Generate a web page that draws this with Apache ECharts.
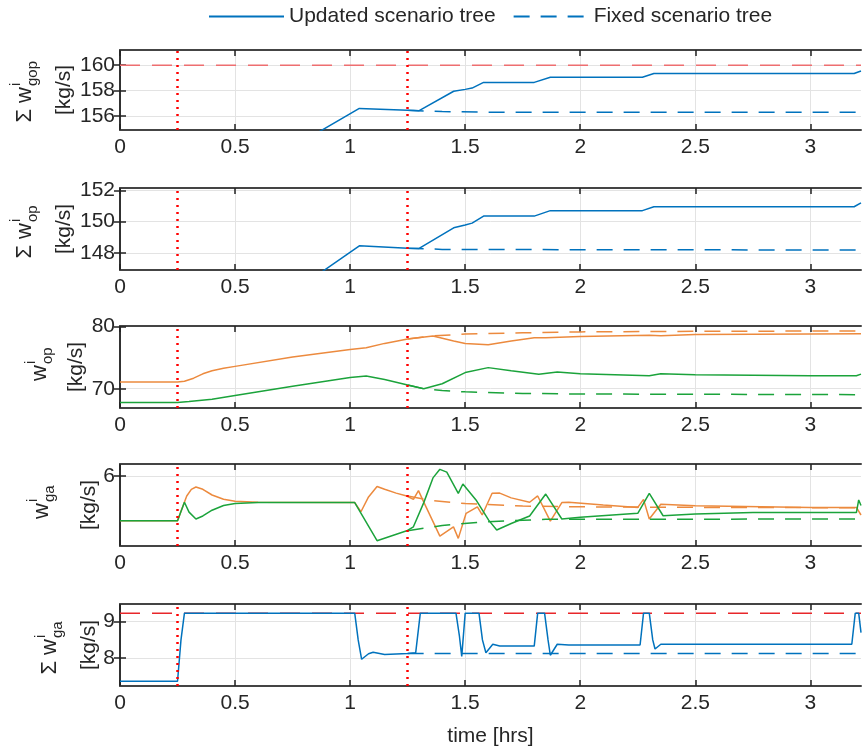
<!DOCTYPE html>
<html>
<head>
<meta charset="utf-8">
<script src="https://cdn.jsdelivr.net/npm/echarts@6/dist/echarts.min.js"></script>
<style>
html, body { margin: 0; padding: 0; background: #fff; }
#chart { width: 862px; height: 751px; }
</style>
</head>
<body>
<div id="chart"></div>
<script>
// event times (red dotted verticals)
const eventTimes = [0.25, 1.25]
const xTicks = [0, 0.5, 1, 1.5, 2, 2.5, 3]

// panel 1: sum w_gop
const gopUpdated = [[0.85,154.6],[1.04,156.6],[1.25,156.45],[1.3,156.42],[1.45,157.95],[1.5,158.1],[1.53,158.2],[1.58,158.65],[1.8,158.65],[1.87,159.05],[2.27,159.05],[2.32,159.35],[3.19,159.35],[3.22,159.55]]
const gopFixed = [[1.25,156.45],[1.4,156.35],[1.6,156.3],[3.22,156.3]]
const gopLimit = [[0,160],[3.22,160]]

// panel 2: sum w_op
const opSumUpdated = [[0.85,146.5],[1.04,148.45],[1.25,148.3],[1.3,148.28],[1.45,149.6],[1.5,149.78],[1.53,149.9],[1.58,150.35],[1.8,150.35],[1.87,150.7],[2.27,150.7],[2.32,150.95],[3.19,150.95],[3.22,151.2]]
const opSumFixed = [[1.25,148.3],[1.4,148.22],[2,148.2],[3.22,148.18]]

// panel 3: w_op per well
const op1Updated = [[0,71.1],[0.25,71.1],[0.28,71.2],[0.32,71.7],[0.36,72.4],[0.4,72.9],[0.45,73.3],[0.5,73.6],[0.75,75.1],[1.0,76.3],[1.07,76.6],[1.15,77.3],[1.25,78.0],[1.36,78.5],[1.45,77.7],[1.5,77.3],[1.6,77.1],[1.7,77.7],[1.8,78.2],[1.85,78.2],[2.0,78.4],[2.3,78.6],[2.35,78.55],[2.5,78.75],[3.0,78.8],[3.22,78.85]]
const op1Fixed = [[1.25,78.0],[1.36,78.5],[1.5,78.8],[1.75,79.0],[2.0,79.15],[2.5,79.25],[3.22,79.3]]
const op2Updated = [[0,67.8],[0.25,67.8],[0.3,67.95],[0.4,68.3],[0.5,68.9],[0.75,70.4],[1.0,71.8],[1.07,72.05],[1.15,71.5],[1.25,70.6],[1.32,70.0],[1.4,70.8],[1.5,72.6],[1.6,73.4],[1.7,72.9],[1.82,72.35],[1.9,72.7],[2.0,72.4],[2.3,72.1],[2.35,72.4],[2.5,72.25],[3.0,72.1],[3.2,72.1],[3.22,72.35]]
const op2Fixed = [[1.25,70.6],[1.32,70.0],[1.4,69.7],[1.5,69.5],[1.75,69.25],[2.0,69.15],[3.22,69.05]]

// panel 4: w_ga per well
const ga1Updated = [[0,3.65],[0.25,3.65],[0.27,4.3],[0.29,4.95],[0.31,5.3],[0.33,5.42],[0.36,5.3],[0.4,5.0],[0.45,4.78],[0.5,4.67],[0.6,4.62],[1.02,4.6],[1.047,4.12],[1.08,4.9],[1.117,5.45],[1.15,5.3],[1.2,5.1],[1.246,4.95],[1.275,4.77],[1.297,5.23],[1.319,4.65],[1.39,2.84],[1.449,3.33],[1.47,2.72],[1.504,4.04],[1.553,4.38],[1.574,3.95],[1.617,5.09],[1.65,5.1],[1.7,4.85],[1.78,4.62],[1.815,4.95],[1.87,3.63],[1.92,4.6],[1.95,4.62],[2.1,4.48],[2.25,4.35],[2.275,4.77],[2.3,3.74],[2.35,4.51],[2.5,4.43],[3.0,4.35],[3.2,4.35],[3.22,3.95]]
const ga1Fixed = [[1.25,4.95],[1.35,4.72],[1.5,4.55],[1.75,4.42],[2.0,4.38],[2.5,4.35],[3.22,4.33]]
const ga2Updated = [[0,3.65],[0.25,3.65],[0.28,4.62],[0.3,4.1],[0.33,3.74],[0.36,3.9],[0.4,4.2],[0.45,4.45],[0.5,4.55],[0.6,4.6],[1.02,4.6],[1.117,2.6],[1.246,3.12],[1.275,3.33],[1.32,4.6],[1.36,5.9],[1.39,6.35],[1.42,6.2],[1.47,5.09],[1.49,5.58],[1.547,4.74],[1.602,3.68],[1.637,3.16],[1.7,3.5],[1.78,3.9],[1.85,5.05],[1.92,3.74],[2.0,3.83],[2.25,4.04],[2.3,5.09],[2.36,3.91],[2.5,4.0],[2.75,4.08],[3.2,4.08],[3.21,4.74],[3.22,4.45]]
const ga2Fixed = [[1.25,3.12],[1.32,3.25],[1.4,3.4],[1.55,3.56],[1.7,3.65],[1.85,3.72],[3.22,3.74]]

// panel 5: sum w_ga
const gaSumUpdated = [[0,7.37],[0.25,7.37],[0.265,8.5],[0.28,9.23],[1.02,9.23],[1.035,8.5],[1.05,7.97],[1.08,8.12],[1.1,8.16],[1.15,8.1],[1.25,8.13],[1.285,8.15],[1.305,9.23],[1.46,9.23],[1.475,8.6],[1.485,8.05],[1.5,9.23],[1.56,9.23],[1.575,8.5],[1.59,8.15],[1.62,8.38],[1.65,8.33],[1.8,8.33],[1.815,9.23],[1.845,9.23],[1.86,8.5],[1.87,8.08],[1.9,8.38],[1.95,8.36],[2.26,8.36],[2.275,9.23],[2.3,9.23],[2.315,8.5],[2.325,8.25],[2.35,8.38],[3.18,8.38],[3.195,9.23],[3.21,9.23],[3.22,8.7]]
const gaSumFixed = [[1.25,8.13],[3.22,8.13]]
const gaSumLimit = [[0,9.23],[3.22,9.23]]

// y axis ranges and ticks per panel
const yRanges = [[154.9, 161.2], [146.9, 152.15], [66.9, 80.1], [2.32, 6.63], [7.24, 9.48]]
const yTicks = [[156, 158, 160], [148, 150, 152], [70, 80], [6], [8, 9]]

const FONT = 'Liberation Sans, Arial, sans-serif'
const BLUE = '#0072BD'
const ORANGE = '#EC8A3E'
const GREEN = '#1BA33B'
const gridTops = [50, 188, 326, 464, 604]
const gridHeights = [80, 82, 82, 82, 82]

const grids = gridTops.map((top, i) => ({ left: 120, right: 1, top: top, height: gridHeights[i] }))

const xAxes = []
const yAxes = []
gridTops.forEach((top, i) => {
  xAxes.push({
    type: 'value', gridIndex: i, min: 0, max: 3.22,
    axisLine: { show: true, lineStyle: { color: '#444', width: 2 } },
    axisTick: { show: true, inside: true, length: 6, customValues: xTicks, lineStyle: { color: '#222', width: 1.5 } },
    axisLabel: { customValues: xTicks, fontSize: 21, fontFamily: FONT, color: '#262626', margin: 7 },
    splitLine: { show: true, lineStyle: { color: '#e3e3e3', width: 1 } },
    name: i === 4 ? 'time [hrs]' : '',
    nameLocation: 'middle', nameGap: 40,
    nameTextStyle: { fontSize: 21, fontFamily: FONT, color: '#262626' }
  })
  xAxes.push({
    type: 'value', gridIndex: i, min: 0, max: 3.22, position: 'top',
    axisLine: { show: true, lineStyle: { color: '#444', width: 2 } },
    axisTick: { show: true, inside: true, length: 6, customValues: xTicks, lineStyle: { color: '#222', width: 1.5 } },
    axisLabel: { show: false },
    splitLine: { show: false }
  })
  yAxes.push({
    type: 'value', gridIndex: i, min: yRanges[i][0], max: yRanges[i][1],
    axisLine: { show: true, lineStyle: { color: '#262626', width: 1.5 } },
    axisTick: { show: true, inside: true, length: 6, customValues: yTicks[i], lineStyle: { color: '#222', width: 1.5 } },
    axisLabel: { customValues: yTicks[i], fontSize: 21, fontFamily: FONT, color: '#262626', margin: 5 },
    splitLine: { show: true, lineStyle: { color: '#e3e3e3', width: 1 } }
  })
  yAxes.push({
    type: 'value', gridIndex: i, min: yRanges[i][0], max: yRanges[i][1], position: 'right',
    axisLine: { show: true, lineStyle: { color: '#262626', width: 1.5 } },
    axisTick: { show: true, inside: true, length: 6, customValues: yTicks[i], lineStyle: { color: '#222', width: 1.5 } },
    axisLabel: { show: false },
    splitLine: { show: false }
  })
})

function line(name, data, panel, color, dash, z) {
  return {
    type: 'line', name: name, data: data,
    xAxisIndex: panel * 2, yAxisIndex: panel * 2,
    symbol: 'none', silent: true, z: z || 3,
    lineStyle: { color: color, width: 1.5, type: dash || 'solid' },
    itemStyle: { color: color }
  }
}

const DASH = [16, 11]
const RED_DASH = [20, 12]

const series = [
  line('limit', gopLimit, 0, '#EE6E70', RED_DASH, 2),
  line('Updated scenario tree', gopUpdated, 0, BLUE),
  line('Fixed scenario tree', gopFixed, 0, BLUE, DASH),
  line('Updated scenario tree', opSumUpdated, 1, BLUE),
  line('Fixed scenario tree', opSumFixed, 1, BLUE, DASH),
  line('well 1', op1Updated, 2, ORANGE),
  line('well 1 fixed', op1Fixed, 2, ORANGE, DASH),
  line('well 2', op2Updated, 2, GREEN),
  line('well 2 fixed', op2Fixed, 2, GREEN, DASH),
  line('well 1', ga1Updated, 3, ORANGE),
  line('well 1 fixed', ga1Fixed, 3, ORANGE, DASH),
  line('well 2', ga2Updated, 3, GREEN),
  line('well 2 fixed', ga2Fixed, 3, GREEN, DASH),
  line('limit', gaSumLimit, 4, '#E8262A', RED_DASH, 2),
  line('Updated scenario tree', gaSumUpdated, 4, BLUE),
  line('Fixed scenario tree', gaSumFixed, 4, BLUE, DASH)
]

// red dotted event markers in every panel
gridTops.forEach((top, i) => {
  series.push({
    type: 'line', name: 'events', data: [], xAxisIndex: i * 2, yAxisIndex: i * 2,
    silent: true, z: 10,
    markLine: {
      silent: true, symbol: 'none', animation: false,
      label: { show: false },
      lineStyle: { color: '#FF0000', type: [2, 5], width: 2.5 },
      data: eventTimes.map(t => ({ xAxis: t }))
    }
  })
})

// rotated y labels: main text + superscript i + subscript, then [kg/s]
function yLabel(cy, main, sub, xMain, xKg, split) {
  const t = (text, x, y, size, align) => ({
    type: 'text', x: x, y: y,
    style: { text: text, font: size + 'px ' + FONT, fill: '#262626', align: align, verticalAlign: 'middle', textAlign: align, textVerticalAlign: 'middle' }
  })
  return {
    type: 'group', x: 0, y: cy, rotation: Math.PI / 2, silent: true,
    children: [
      t(main, split, xMain, 22, 'right'),
      t('i', split + 1, xMain - 9, 15, 'left'),
      t(sub, split + 1, xMain + 8, 15, 'left'),
      t('[kg/s]', 0, xKg, 21, 'center')
    ]
  }
}

const graphics = [
  yLabel(90, 'Σ w', 'gop', 25, 64, 3),
  yLabel(229, 'Σ w', 'op', 25, 64, 6),
  yLabel(367, 'w', 'op', 40, 76, 2),
  yLabel(505, 'w', 'ga', 42, 89, 2),
  yLabel(645, 'Σ w', 'ga', 50, 89, 6)
]

const chart = echarts.init(document.getElementById('chart'))
chart.setOption({
  animation: false,
  backgroundColor: '#fff',
  legend: {
    data: ['Updated scenario tree', 'Fixed scenario tree'],
    top: 1, left: 203, itemWidth: 75, itemHeight: 12, itemGap: 17,
    itemStyle: { opacity: 0 },
    textStyle: { fontSize: 21, fontFamily: FONT, color: '#262626' }
  },
  grid: grids,
  xAxis: xAxes,
  yAxis: yAxes,
  series: series,
  graphic: graphics
})
</script>
</body>
</html>
